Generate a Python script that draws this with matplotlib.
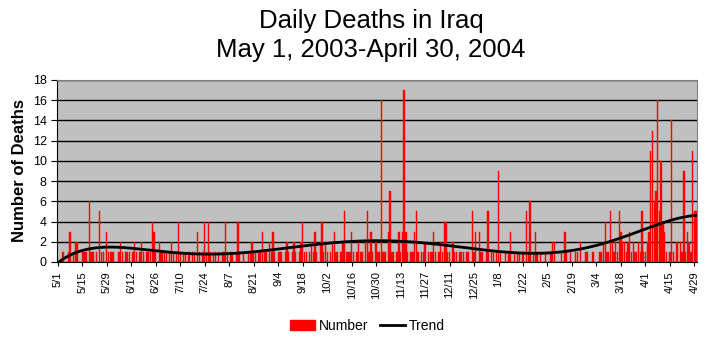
import numpy as np
import matplotlib
matplotlib.use("Agg")
import matplotlib.pyplot as plt
from matplotlib.patches import Patch
from matplotlib.lines import Line2D

plt.rcParams['font.family'] = ['Liberation Sans', 'DejaVu Sans']

may = [0,0,0,1,0,0,1,3,0,1, 2,2,0,0,1,1,1,0,6,1, 1,0,1,0,5,1,1,0,3,1, 1]
jun = [1,1,0,0,1,2,1,0,1,1, 1,0,1,2,1,0,1,2,1,0, 1,1,1,4,3,1,0,2,1,1]
jul = [1,1,0,1,2,1,0,1,4,1, 0,1,1,0,1,0,1,1,0,3, 1,0,1,4,1,4,1,0,1,1, 0]
aug = [1,0,1,1,4,1,0,1,1,0, 1,4,1,0,1,0,0,1,1,2, 1,1,0,1,1,3,1,1,0,2, 1]
sep = [3,1,0,1,1,1,0,1,2,1, 0,1,2,1,0,1,2,4,1,1, 0,1,2,1,3,1,0,2,4,1]
oct_ = [2,1,0,1,2,3,1,1,0,1, 2,5,1,1,1,3,1,0,1,2, 1,1,0,2,5,1,3,1,0,2, 1]
nov = [1,16,1,1,0,3,7,1,1,0, 1,3,1,3,17,3,1,0,1,1, 3,5,1,0,1,1,2,0,1,1]
dec = [1,3,1,0,1,2,1,4,4,1, 1,0,2,1,1,0,1,1,1,0, 1,1,0,5,1,3,0,3,1,1, 0]
jan = [1,5,0,1,1,0,1,9,1,0, 0,1,0,1,3,0,1,0,1,1, 0,1,0,5,1,6,0,1,3,1, 0]
feb = [1,0,0,1,0,0,1,2,2,0, 0,0,1,0,3,1,0,1,0,0, 1,1,0,2,0,0,1,1,0]
mar = [0,1,0,0,0,1,1,2,4,1, 1,5,2,1,2,1,5,3,2,2, 1,2,3,1,2,1,1,2,1,5, 1]
apr = [1,2,3,11,13,6,7,16,5,10, 4,3,1,0,1,14,1,0,2,0, 2,1,9,1,3,2,1,11,5,5]

deaths = np.array(may + jun + jul + aug + sep + oct_ + nov + dec + jan + feb + mar + apr, dtype=float)
tick_labels = ["5/1","5/15","5/29","6/12","6/26","7/10","7/24","8/7","8/21","9/4",
               "9/18","10/2","10/16","10/30","11/13","11/27","12/11","12/25","1/8",
               "1/22","2/5","2/19","3/4","3/18","4/1","4/15","4/29"]

days = np.arange(len(deaths))
# polynomial trend (order 6) as in the spreadsheet trendline
xs = (days - days.mean()) / days.std()
coef = np.polyfit(xs, deaths, 6)
trend = np.polyval(coef, xs)

fig = plt.figure(figsize=(7.07, 3.42), dpi=100)
ax = fig.add_axes([57/707, 1-262/342, 640/707, 182/342])
ax.set_facecolor('#C0C0C0')
ax.bar(days, deaths, width=0.75, color='#FF0000', edgecolor='#FF0000', lw=0.3, zorder=2)
ax.plot(days, trend, color='black', lw=2, zorder=3)

ax.set_ylim(0, 18)
ax.set_yticks(np.arange(0, 19, 2))
ax.yaxis.grid(True, color='black', lw=1)
ax.set_axisbelow(True)
ax.set_xlim(-0.5, len(deaths) - 0.5)
ax.set_xticks(np.arange(0, len(deaths), 14)[:len(tick_labels)])
ax.set_xticklabels(tick_labels, rotation=90, fontsize=8)
ax.tick_params(axis='y', labelsize=9, length=4, direction='out')
ax.tick_params(axis='x', length=3, direction='out')
for s in ['top', 'right']:
    ax.spines[s].set_color('#808080')
ax.spines['left'].set_color('black')
ax.spines['bottom'].set_color('black')

ax.set_ylabel('Number of Deaths', fontsize=12, fontweight='bold', labelpad=4)
fig.text(0.525, 0.94, 'Daily Deaths in Iraq', ha='center', va='center', fontsize=18.5)
fig.text(0.525, 0.855, 'May 1, 2003-April 30, 2004', ha='center', va='center', fontsize=18.5)

handles = [Patch(color='#FF0000'), Line2D([0], [0], color='black', lw=2)]
fig.legend(handles, ['Number', 'Trend'], loc='center', bbox_to_anchor=(0.52, 0.047),
           ncol=2, frameon=False, fontsize=10, handlelength=1.8, columnspacing=0.8,
           handletextpad=0.3)

fig.savefig('out.png', dpi=100)
